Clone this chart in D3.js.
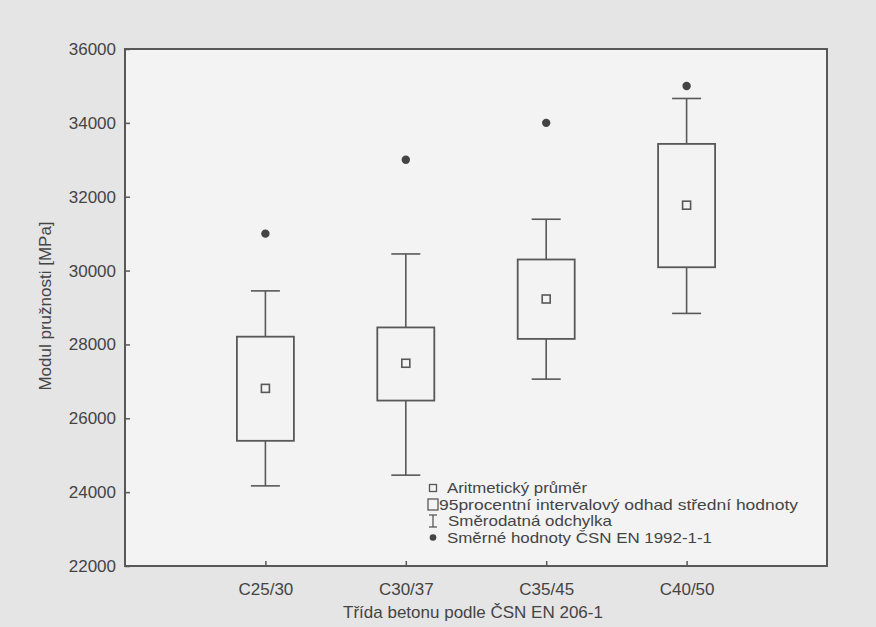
<!DOCTYPE html>
<html><head><meta charset="utf-8">
<script src="https://cdn.jsdelivr.net/npm/d3@7"></script>
<style>
html,body{margin:0;padding:0;background:#e5e5e5;}
svg{display:block;}
text{font-family:"Liberation Sans",Arial,sans-serif;fill:#444;}
</style></head>
<body>
<svg id="chart" width="876" height="627"></svg>
<script>
const categories = ["C25/30", "C30/37", "C35/45", "C40/50"];
const means      = [26810, 27490, 29230, 31770];
const ciLow      = [25390, 26480, 28150, 30090];
const ciHigh     = [28210, 28460, 30300, 33430];
const sdLow      = [24170, 24460, 27060, 28840];
const sdHigh     = [29450, 30450, 31390, 34660];
const normValues = [31000, 33000, 34000, 35000];
const yTicks     = [22000, 24000, 26000, 28000, 30000, 32000, 34000, 36000];
const legendLabels = ["Aritmetický průměr", "95procentní intervalový odhad střední hodnoty", "Směrodatná odchylka", "Směrné hodnoty ČSN EN 1992-1-1"];

const svg = d3.select("#chart");
const L = 125, R = 827, T = 49, B = 566;
const lineCol = "#585858";

const x = d3.scaleLinear().domain([0, categories.length + 1]).range([L, R]);
const y = d3.scaleLinear().domain([22000, 36000]).range([B, T]);

// plot background
svg.append("rect").attr("x", L).attr("y", T).attr("width", R - L).attr("height", B - T)
  .attr("fill", "#f3f3f3");

// y axis
const yAxis = d3.axisLeft(y).tickValues(yTicks).tickSizeInner(-5).tickSizeOuter(0).tickPadding(9)
  .tickFormat(d3.format("d"));
const gy = svg.append("g").attr("transform", `translate(${L},0)`).call(yAxis);
gy.select(".domain").remove();
gy.selectAll("line").attr("stroke", lineCol).attr("stroke-width", 1.5);
gy.selectAll("text").style("font-size", "17px").attr("fill", "#444");

// x axis
const xAxis = d3.axisBottom(x).tickValues(categories.map((c, i) => i + 1))
  .tickFormat((d, i) => categories[i]).tickSizeInner(-5).tickSizeOuter(0).tickPadding(17);
const gx = svg.append("g").attr("transform", `translate(0,${B})`).call(xAxis);
gx.select(".domain").remove();
gx.selectAll("line").attr("stroke", lineCol).attr("stroke-width", 1.5);
gx.selectAll("text").style("font-size", "17px").attr("fill", "#444");

// frame
svg.append("rect").attr("x", L).attr("y", T).attr("width", R - L).attr("height", B - T)
  .attr("fill", "none").attr("stroke", lineCol).attr("stroke-width", 2);

// axis titles
svg.append("text").attr("x", 473).attr("y", 618).attr("text-anchor", "middle")
  .style("font-size", "17px").text("Třída betonu podle ČSN EN 206-1");
svg.append("text").attr("transform", `translate(51,306) rotate(-90)`)
  .attr("text-anchor", "middle").style("font-size", "17px").text("Modul pružnosti [MPa]");

// boxes
const boxW = 57, capW = 29;
const g = svg.append("g");
categories.forEach((c, i) => {
  const cx = x(i + 1);
  g.append("line").attr("x1", cx).attr("x2", cx).attr("y1", y(sdHigh[i])).attr("y2", y(ciHigh[i]))
    .attr("stroke", lineCol).attr("stroke-width", 1.6);
  g.append("line").attr("x1", cx).attr("x2", cx).attr("y1", y(ciLow[i])).attr("y2", y(sdLow[i]))
    .attr("stroke", lineCol).attr("stroke-width", 1.6);
  g.append("line").attr("x1", cx - capW / 2).attr("x2", cx + capW / 2).attr("y1", y(sdHigh[i])).attr("y2", y(sdHigh[i]))
    .attr("stroke", lineCol).attr("stroke-width", 1.6);
  g.append("line").attr("x1", cx - capW / 2).attr("x2", cx + capW / 2).attr("y1", y(sdLow[i])).attr("y2", y(sdLow[i]))
    .attr("stroke", lineCol).attr("stroke-width", 1.6);
  g.append("rect").attr("x", cx - boxW / 2).attr("y", y(ciHigh[i])).attr("width", boxW)
    .attr("height", y(ciLow[i]) - y(ciHigh[i])).attr("fill", "none")
    .attr("stroke", lineCol).attr("stroke-width", 1.8);
  g.append("rect").attr("x", cx - 4).attr("y", y(means[i]) - 4).attr("width", 8).attr("height", 8)
    .attr("fill", "none").attr("stroke", lineCol).attr("stroke-width", 1.6);
  g.append("circle").attr("cx", cx).attr("cy", y(normValues[i])).attr("r", 4.2).attr("fill", "#444");
});

// legend
const lg = svg.append("g");
const lx = 433, ly = [488, 504.5, 521, 537.5];
lg.append("rect").attr("x", lx - 3.5).attr("y", ly[0] - 3.5).attr("width", 7).attr("height", 7)
  .attr("fill", "none").attr("stroke", lineCol).attr("stroke-width", 1.3);
lg.append("rect").attr("x", lx - 5).attr("y", ly[1] - 5.5).attr("width", 10).attr("height", 11)
  .attr("fill", "none").attr("stroke", lineCol).attr("stroke-width", 1.3);
lg.append("line").attr("x1", lx).attr("x2", lx).attr("y1", ly[2] - 6).attr("y2", ly[2] + 6).attr("stroke", lineCol).attr("stroke-width", 1.3);
lg.append("line").attr("x1", lx - 4).attr("x2", lx + 4).attr("y1", ly[2] - 6).attr("y2", ly[2] - 6).attr("stroke", lineCol).attr("stroke-width", 1.3);
lg.append("line").attr("x1", lx - 4).attr("x2", lx + 4).attr("y1", ly[2] + 6).attr("y2", ly[2] + 6).attr("stroke", lineCol).attr("stroke-width", 1.3);
lg.append("circle").attr("cx", lx).attr("cy", ly[3]).attr("r", 3.3).attr("fill", "#444");
const textX = [447, 439, 448, 447];
const textW = [140, 359, 164, 265];
legendLabels.forEach((t, i) => {
  lg.append("text").attr("x", textX[i]).attr("y", ly[i]).attr("dy", "0.35em")
    .attr("textLength", textW[i]).attr("lengthAdjust", "spacingAndGlyphs")
    .style("font-size", "14.5px").text(t);
});
</script>
</body></html>
